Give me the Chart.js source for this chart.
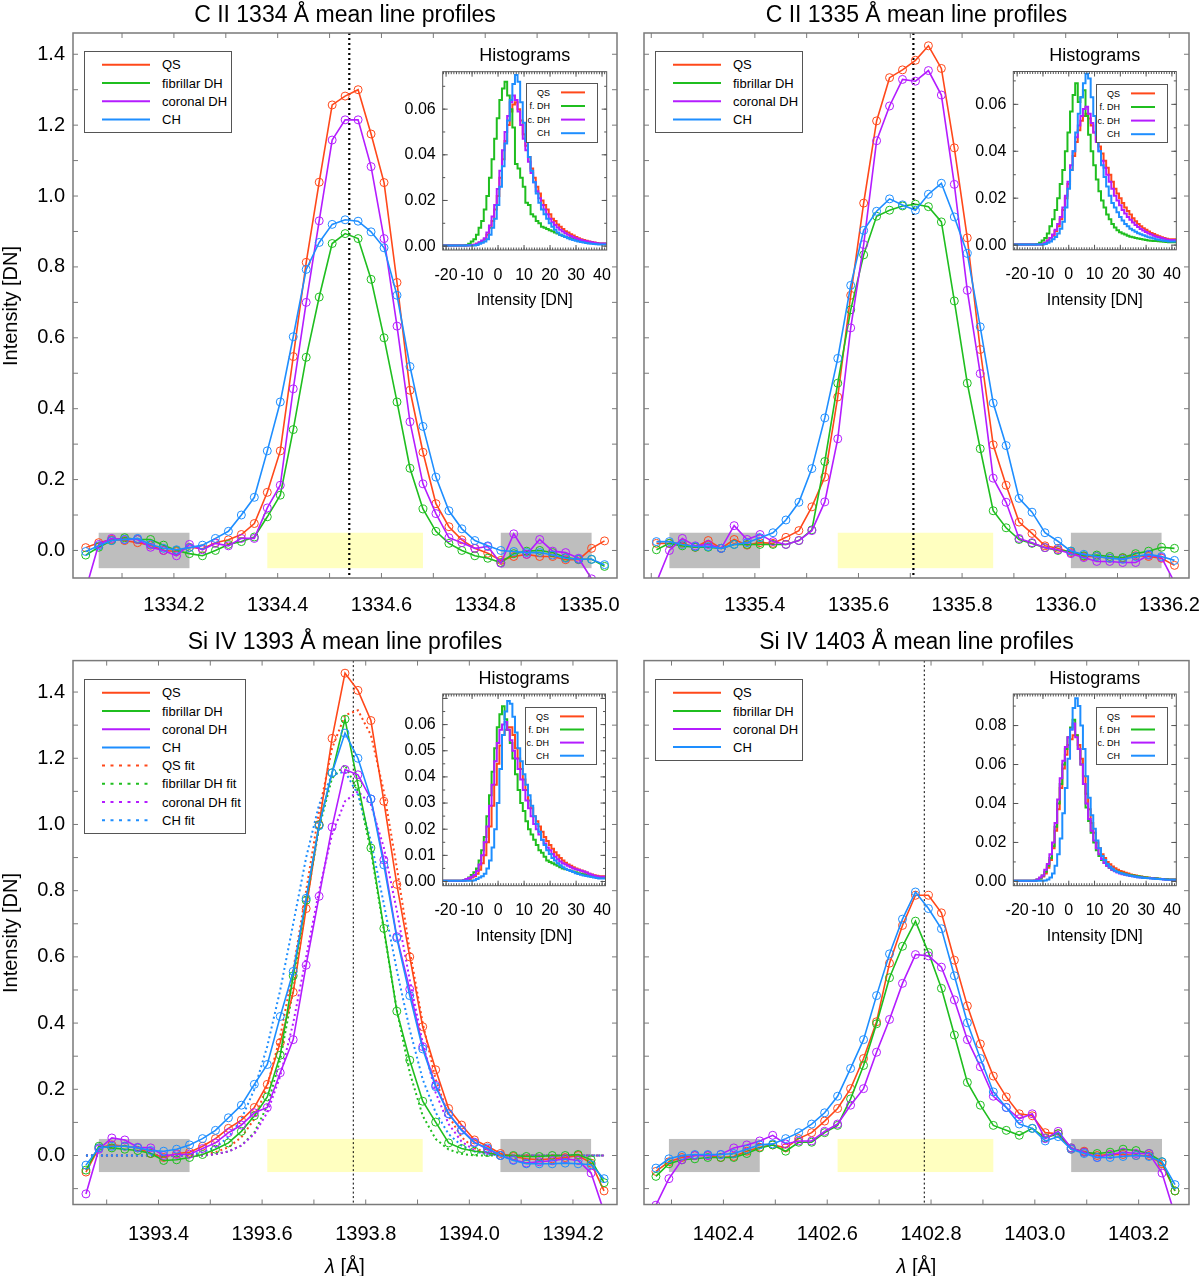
<!DOCTYPE html>
<html>
<head>
<meta charset="utf-8">
<title>IRIS mean line profiles</title>
<script src="https://cdn.jsdelivr.net/npm/chart.js@4.4.1/dist/chart.umd.min.js"></script>
<style>
  html, body { margin: 0; padding: 0; background: #fff; }
  #page { position: relative; width: 1200px; height: 1276px; overflow: hidden;
          font-family: "Liberation Sans", Arial, sans-serif; color: #000; }
  #page canvas { position: absolute; }
  .lbl { position: absolute; white-space: nowrap; line-height: 1; transform: translate(-50%, -50%); }
  .rot { transform: translate(-50%, -50%) rotate(-90deg); }
</style>
</head>
<body>
<div id="page"></div>
<script>
// ---------- wavelength grids (Angstrom) ----------
const lamC1334 = [1334.030, 1334.055, 1334.080, 1334.105, 1334.130, 1334.155, 1334.180, 1334.205, 1334.230, 1334.255,
  1334.280, 1334.305, 1334.330, 1334.355, 1334.380, 1334.405, 1334.430, 1334.455, 1334.480, 1334.505,
  1334.530, 1334.555, 1334.580, 1334.605, 1334.630, 1334.655, 1334.680, 1334.705, 1334.730, 1334.755,
  1334.780, 1334.805, 1334.830, 1334.855, 1334.880, 1334.905, 1334.930, 1334.955, 1334.980, 1335.005, 1335.030];
const lamC1335 = [1335.210, 1335.235, 1335.260, 1335.285, 1335.310, 1335.335, 1335.360, 1335.385, 1335.410, 1335.435,
  1335.460, 1335.485, 1335.510, 1335.535, 1335.560, 1335.585, 1335.610, 1335.635, 1335.660, 1335.685,
  1335.710, 1335.735, 1335.760, 1335.785, 1335.810, 1335.835, 1335.860, 1335.885, 1335.910, 1335.935,
  1335.960, 1335.985, 1336.010, 1336.035, 1336.060, 1336.085, 1336.110, 1336.135, 1336.160, 1336.185, 1336.210];
const lamSi1393 = [1393.260, 1393.285, 1393.310, 1393.335, 1393.360, 1393.385, 1393.410, 1393.435, 1393.460, 1393.485,
  1393.510, 1393.535, 1393.560, 1393.585, 1393.610, 1393.635, 1393.660, 1393.685, 1393.710, 1393.735,
  1393.760, 1393.785, 1393.810, 1393.835, 1393.860, 1393.885, 1393.910, 1393.935, 1393.960, 1393.985,
  1394.010, 1394.035, 1394.060, 1394.085, 1394.110, 1394.135, 1394.160, 1394.185, 1394.210, 1394.235, 1394.260];
const lamSi1403 = [1402.270, 1402.295, 1402.320, 1402.345, 1402.370, 1402.395, 1402.420, 1402.445, 1402.470, 1402.495,
  1402.520, 1402.545, 1402.570, 1402.595, 1402.620, 1402.645, 1402.670, 1402.695, 1402.720, 1402.745,
  1402.770, 1402.795, 1402.820, 1402.845, 1402.870, 1402.895, 1402.920, 1402.945, 1402.970, 1402.995,
  1403.020, 1403.045, 1403.070, 1403.095, 1403.120, 1403.145, 1403.170, 1403.195, 1403.220, 1403.245, 1403.270];

// ---------- mean line profiles [DN] ----------
const qsC1334 = [0.008, 0.022, 0.031, 0.028, 0.022, 0.015, 0.000, -0.003, 0.009, 0.005, 0.022, 0.030, 0.045, 0.076, 0.164, 0.281, 0.547, 0.813, 1.039, 1.257,
  1.282, 1.300, 1.175, 1.038, 0.756, 0.452, 0.277, 0.132, 0.067, 0.030, 0.006, -0.008, -0.028, -0.017, -0.011, -0.017, -0.017, -0.026, -0.026, 0.006, 0.027];
const fdhC1334 = [-0.013, 0.009, 0.028, 0.036, 0.031, 0.031, 0.015, 0.000, -0.009, -0.015, 0.000, 0.017, 0.025, 0.038, 0.095, 0.156, 0.341, 0.545, 0.715, 0.866,
  0.894, 0.880, 0.765, 0.600, 0.419, 0.232, 0.117, 0.054, 0.020, 0.000, -0.015, -0.022, -0.034, -0.009, -0.002, 0.000, -0.006, -0.020, -0.025, -0.025, -0.045];
const cdhC1334 = [-0.110, 0.017, 0.034, 0.031, 0.031, 0.009, 0.000, -0.015, 0.017, 0.002, 0.020, 0.013, 0.034, 0.034, 0.120, 0.184, 0.456, 0.700, 0.930, 1.158,
  1.215, 1.215, 1.083, 0.880, 0.633, 0.363, 0.188, 0.104, 0.036, 0.022, 0.006, 0.011, -0.036, 0.047, -0.011, 0.031, -0.002, -0.006, -0.022, -0.080, -0.120];
const chC1334 = [-0.003, 0.013, 0.028, 0.031, 0.034, 0.017, 0.006, 0.002, 0.008, 0.015, 0.034, 0.054, 0.100, 0.150, 0.281, 0.419, 0.603, 0.793, 0.869, 0.920,
  0.933, 0.929, 0.899, 0.854, 0.720, 0.519, 0.350, 0.207, 0.112, 0.061, 0.028, 0.013, 0.000, -0.003, -0.006, -0.006, -0.013, -0.022, -0.025, -0.025, -0.040];

const qsC1335 = [0.020, 0.020, 0.020, 0.009, 0.028, 0.006, 0.031, 0.015, 0.022, 0.020, 0.037, 0.056, 0.123, 0.207, 0.433, 0.720, 0.980, 1.212, 1.334, 1.356,
  1.383, 1.424, 1.360, 1.136, 0.882, 0.567, 0.298, 0.184, 0.080, 0.048, 0.013, 0.006, -0.006, -0.017, -0.017, -0.022, -0.022, -0.015, -0.017, -0.022, -0.042];
const fdhC1335 = [0.002, 0.020, 0.013, 0.009, 0.009, 0.006, 0.017, 0.017, 0.017, 0.017, 0.017, 0.028, 0.058, 0.251, 0.472, 0.679, 0.834, 0.943, 0.960, 0.972,
  0.977, 0.970, 0.927, 0.704, 0.472, 0.287, 0.112, 0.064, 0.031, 0.020, 0.008, 0.000, -0.002, -0.015, -0.013, -0.017, -0.020, -0.009, -0.002, 0.009, 0.006];
const cdhC1335 = [-0.090, 0.000, 0.034, 0.013, 0.017, 0.006, 0.070, 0.031, 0.045, 0.025, 0.017, 0.028, 0.056, 0.137, 0.315, 0.628, 0.863, 1.156, 1.254, 1.329,
  1.324, 1.354, 1.285, 1.033, 0.734, 0.499, 0.204, 0.136, 0.034, 0.022, 0.008, 0.002, -0.009, -0.020, -0.031, -0.031, -0.034, -0.034, -0.013, -0.020, -0.090];
const chC1335 = [0.025, 0.025, 0.017, 0.011, 0.011, 0.006, 0.017, 0.022, 0.036, 0.050, 0.086, 0.136, 0.231, 0.374, 0.542, 0.748, 0.903, 0.957, 0.992, 0.975,
  0.960, 1.005, 1.036, 0.941, 0.838, 0.631, 0.416, 0.296, 0.147, 0.108, 0.050, 0.026, -0.002, -0.011, -0.017, -0.022, -0.025, -0.017, -0.011, -0.017, -0.028];

const qsSi1393 = [-0.050, 0.023, 0.032, 0.028, 0.023, 0.006, -0.006, 0.006, 0.010, 0.028, 0.051, 0.082, 0.107, 0.145, 0.215, 0.341, 0.493, 0.746, 1.000, 1.260,
  1.457, 1.405, 1.314, 1.070, 0.819, 0.600, 0.389, 0.259, 0.142, 0.092, 0.047, 0.028, 0.006, -0.003, -0.010, -0.013, -0.010, -0.006, 0.000, -0.023, -0.107];
const fdhSi1393 = [-0.044, 0.028, 0.023, 0.019, 0.015, 0.006, -0.015, -0.013, -0.006, 0.003, 0.019, 0.038, 0.073, 0.120, 0.177, 0.303, 0.543, 0.771, 0.998, 1.156,
  1.318, 1.121, 0.929, 0.686, 0.436, 0.288, 0.164, 0.101, 0.038, 0.021, 0.013, 0.009, 0.000, 0.000, -0.003, -0.003, 0.000, 0.000, 0.003, -0.013, -0.082];
const cdhSi1393 = [-0.116, 0.019, 0.053, 0.047, 0.025, 0.023, 0.000, 0.003, 0.004, 0.021, 0.038, 0.069, 0.092, 0.129, 0.145, 0.250, 0.350, 0.575, 0.783, 0.992,
  1.166, 1.150, 1.077, 0.893, 0.661, 0.502, 0.329, 0.212, 0.126, 0.078, 0.040, 0.019, 0.000, -0.013, -0.023, -0.019, -0.016, -0.010, -0.015, -0.053, -0.170];
const chSi1393 = [-0.029, 0.023, 0.028, 0.028, 0.023, 0.015, 0.013, 0.019, 0.032, 0.051, 0.076, 0.114, 0.152, 0.215, 0.275, 0.420, 0.556, 0.777, 0.996, 1.156,
  1.276, 1.200, 1.077, 0.878, 0.657, 0.483, 0.322, 0.208, 0.126, 0.076, 0.038, 0.023, 0.000, -0.015, -0.025, -0.025, -0.025, -0.023, -0.025, -0.028, -0.070];
// fitted profiles (dotted), Si IV 1393 only
const qsFitSi1393 = [0, 0, 0, 0, 0, 0, 0, 0, 0, 0.003, 0.010, 0.025, 0.055, 0.110, 0.210, 0.360, 0.560, 0.800, 1.040, 1.230,
  1.330, 1.345, 1.270, 1.100, 0.870, 0.620, 0.400, 0.230, 0.120, 0.055, 0.022, 0.008, 0.003, 0, 0, 0, 0, 0, 0, 0, 0];
const fdhFitSi1393 = [0, 0, 0, 0, 0, 0, 0, 0, 0, 0, 0.004, 0.012, 0.030, 0.070, 0.150, 0.290, 0.500, 0.760, 0.990, 1.140,
  1.180, 1.100, 0.920, 0.680, 0.440, 0.250, 0.120, 0.050, 0.018, 0.005, 0, 0, 0, 0, 0, 0, 0, 0, 0, 0, 0];
const cdhFitSi1393 = [0, 0, 0, 0, 0, 0, 0, 0, 0, 0, 0.004, 0.012, 0.030, 0.065, 0.130, 0.240, 0.400, 0.600, 0.800, 0.970,
  1.070, 1.100, 1.060, 0.930, 0.740, 0.530, 0.340, 0.190, 0.095, 0.042, 0.016, 0.005, 0, 0, 0, 0, 0, 0, 0, 0, 0];
const chFitSi1393 = [0, 0, 0, 0, 0, 0, 0, 0, 0.003, 0.010, 0.025, 0.055, 0.110, 0.200, 0.330, 0.500, 0.700, 0.900, 1.060, 1.150,
  1.160, 1.090, 0.950, 0.760, 0.560, 0.380, 0.230, 0.130, 0.065, 0.030, 0.012, 0.004, 0, 0, 0, 0, 0, 0, 0, 0, 0];

const qsSi1403 = [-0.048, -0.019, -0.006, 0.000, 0.000, -0.006, -0.003, 0.013, 0.025, 0.032, 0.023, 0.051, 0.069, 0.104, 0.142, 0.202, 0.293, 0.404, 0.581, 0.695,
  0.786, 0.786, 0.733, 0.590, 0.452, 0.337, 0.240, 0.177, 0.126, 0.120, 0.069, 0.066, 0.019, 0.013, 0.000, 0.003, 0.003, 0.000, 0.000, -0.025, -0.107];
const fdhSi1403 = [-0.063, -0.025, -0.013, -0.010, -0.006, -0.006, -0.006, 0.006, 0.023, 0.032, 0.013, 0.040, 0.040, 0.069, 0.091, 0.171, 0.272, 0.398, 0.537, 0.632,
  0.708, 0.613, 0.505, 0.364, 0.221, 0.152, 0.091, 0.076, 0.061, 0.082, 0.053, 0.066, 0.023, 0.010, 0.006, 0.010, 0.019, 0.015, 0.006, -0.019, -0.107];
const cdhSi1403 = [-0.150, -0.070, -0.013, 0.000, 0.000, 0.003, 0.023, 0.032, 0.044, 0.061, 0.035, 0.044, 0.044, 0.073, 0.095, 0.152, 0.202, 0.312, 0.411, 0.520,
  0.607, 0.603, 0.569, 0.470, 0.350, 0.268, 0.179, 0.145, 0.111, 0.126, 0.051, 0.073, 0.023, 0.010, -0.006, 0.003, 0.010, 0.006, 0.006, -0.053, -0.180];
const chSi1403 = [-0.038, -0.010, 0.000, 0.003, 0.003, 0.003, 0.006, 0.019, 0.032, 0.035, 0.051, 0.069, 0.095, 0.129, 0.179, 0.263, 0.350, 0.483, 0.609, 0.714,
  0.796, 0.746, 0.685, 0.543, 0.401, 0.293, 0.192, 0.145, 0.095, 0.082, 0.044, 0.057, 0.019, 0.006, -0.006, -0.006, -0.003, 0.000, -0.003, -0.019, -0.088];

// ---------- intensity histograms (1 DN bins, centres -20..40) ----------
const histBins = [-20, -19, -18, -17, -16, -15, -14, -13, -12, -11, -10, -9, -8, -7, -6, -5, -4, -3, -2, -1,
  0, 1, 2, 3, 4, 5, 6, 7, 8, 9, 10, 11, 12, 13, 14, 15, 16, 17, 18, 19, 20,
  21, 22, 23, 24, 25, 26, 27, 28, 29, 30, 31, 32, 33, 34, 35, 36, 37, 38, 39, 40];

const hQsC1334 = [.0003, .0003, .0003, .0003, .0003, .0003, .0003, .0003, .0003, .0003, .0004, .0004, .0006, .001, .0015, .002, .003, .005, .008, .011,
  .016, .022, .030, .038, .046, .053, .059, .062, .063, .060, .055, .049, .044, .039, .034, .030, .026, .023, .020, .018, .016,
  .014, .012, .011, .0095, .0085, .0075, .0065, .006, .0052, .0046, .004, .0035, .003, .0027, .0024, .002, .0018, .0016, .0014, .0012];
const hFdhC1334 = [.0003, .0003, .0003, .0003, .0003, .0003, .0003, .0003, .0003, .0005, .001, .002, .003, .005, .008, .011, .016, .022, .030, .038,
  .047, .056, .064, .069, .072, .066, .060, .052, .036, .034, .030, .026, .019, .018, .014, .013, .011, .010, .0085, .008, .0075,
  .007, .0065, .006, .0055, .005, .0045, .004, .0037, .0034, .0031, .0028, .0025, .0022, .002, .0018, .0016, .0014, .0012, .0011, .001];
const hCdhC1334 = [.0003, .0003, .0003, .0003, .0003, .0003, .0003, .0003, .0003, .0003, .0004, .0005, .0006, .001, .0017, .0025, .0035, .006, .009, .013,
  .018, .025, .033, .042, .050, .057, .063, .066, .064, .059, .053, .047, .042, .037, .032, .028, .024, .021, .018, .016, .014,
  .012, .0105, .0093, .0082, .0072, .0064, .0056, .005, .0044, .0039, .0034, .003, .0027, .0024, .0021, .0019, .0017, .0015, .0013, .0011];
const hChC1334 = [.0003, .0003, .0003, .0003, .0003, .0003, .0003, .0003, .0003, .0003, .0003, .0003, .0003, .0005, .001, .0015, .002, .003, .005, .008,
  .012, .018, .026, .035, .045, .055, .064, .071, .075, .072, .063, .054, .046, .039, .033, .028, .023, .019, .016, .014, .012,
  .010, .0085, .0072, .006, .005, .0045, .004, .0035, .003, .0027, .0024, .002, .0018, .0016, .0014, .0012, .001, .0009, .0008, .0007];

const hQsC1335 = [.0003, .0003, .0003, .0003, .0003, .0003, .0003, .0003, .0003, .0003, .0003, .0005, .001, .002, .003, .004, .006, .008, .011, .015,
  .020, .026, .032, .038, .044, .049, .053, .055, .056, .054, .051, .048, .045, .042, .039, .036, .033, .030, .027, .024, .022,
  .020, .018, .016, .0145, .013, .0115, .0102, .009, .008, .0072, .0065, .0058, .0052, .0047, .0042, .0038, .0034, .003, .0027, .0025];
const hFdhC1335 = [.0003, .0003, .0003, .0003, .0003, .0003, .0003, .0003, .0003, .0005, .001, .002, .003, .005, .008, .011, .015, .020, .026, .032,
  .040, .048, .057, .064, .069, .061, .063, .066, .055, .047, .040, .034, .028, .023, .019, .016, .013, .011, .009, .0075, .0063,
  .0055, .005, .0045, .004, .0036, .0033, .003, .0028, .0026, .0024, .0022, .002, .0019, .0018, .0017, .0016, .0015, .0014, .0013, .0012];
const hCdhC1335 = [.0003, .0003, .0003, .0003, .0003, .0003, .0003, .0003, .0003, .0003, .0003, .0005, .001, .002, .003, .0045, .0065, .009, .012, .016,
  .021, .027, .034, .040, .046, .051, .055, .058, .059, .056, .052, .048, .044, .040, .036, .033, .030, .027, .024, .021, .019,
  .017, .015, .0135, .012, .0108, .0096, .0086, .0077, .0069, .0062, .0056, .005, .0045, .004, .0036, .0033, .003, .0027, .0024, .0022];
const hChC1335 = [.0003, .0003, .0003, .0003, .0003, .0003, .0003, .0003, .0003, .0003, .0003, .0003, .0005, .001, .0015, .0025, .0035, .005, .007, .010,
  .016, .024, .032, .040, .048, .056, .063, .069, .073, .071, .063, .055, .047, .040, .034, .029, .025, .021, .018, .016, .014,
  .012, .0105, .009, .008, .007, .0063, .0057, .0051, .0046, .0042, .0038, .0034, .0031, .0028, .0025, .0023, .0021, .0019, .0017, .0015];

const hQsSi1393 = [.0003, .0003, .0003, .0003, .0003, .0003, .0003, .0003, .0003, .0005, .001, .0015, .002, .003, .0045, .007, .010, .015, .021, .029,
  .037, .045, .052, .056, .058, .059, .059, .056, .051, .047, .043, .039, .035, .031, .028, .025, .023, .021, .019, .017, .0155,
  .014, .0125, .0112, .010, .009, .008, .0072, .0065, .006, .0055, .005, .0046, .0042, .0038, .0034, .003, .0027, .0024, .0022, .002];
const hFdhSi1393 = [.0003, .0003, .0003, .0003, .0003, .0003, .0003, .0003, .0005, .001, .0015, .0025, .0035, .005, .008, .012, .017, .025, .033, .042,
  .051, .059, .064, .067, .062, .058, .053, .047, .041, .035, .030, .027, .023, .020, .018, .016, .014, .012, .011, .0095, .008,
  .0075, .007, .0065, .006, .0055, .005, .0047, .0044, .0041, .0038, .0035, .0032, .003, .0028, .0025, .0022, .002, .0018, .0016, .0015];
const hCdhSi1393 = [.0003, .0003, .0003, .0003, .0003, .0003, .0003, .0003, .0005, .001, .0013, .0018, .0025, .004, .0065, .010, .015, .021, .029, .037,
  .046, .053, .058, .060, .061, .058, .054, .050, .047, .043, .039, .035, .031, .028, .025, .022, .020, .018, .016, .0145, .013,
  .012, .0105, .0095, .0085, .0077, .007, .0065, .006, .0055, .005, .0047, .0044, .0041, .0038, .0034, .003, .0026, .0022, .002, .0018];
const hChSi1393 = [.0003, .0003, .0003, .0003, .0003, .0003, .0003, .0003, .0003, .0003, .0003, .0003, .0005, .001, .0015, .002, .003, .005, .008, .013,
  .020, .030, .043, .056, .065, .069, .068, .063, .057, .051, .046, .041, .037, .033, .029, .025, .022, .019, .016, .014, .012,
  .0105, .009, .008, .007, .0062, .0055, .0049, .0044, .004, .0036, .0032, .0029, .0026, .0023, .0021, .0019, .0017, .0015, .0013, .0012];

const hQsSi1403 = [.0003, .0003, .0003, .0003, .0003, .0003, .0003, .0003, .0003, .0008, .0015, .0025, .004, .007, .011, .017, .026, .037, .048, .058,
  .065, .070, .073, .075, .075, .070, .063, .054, .045, .037, .030, .025, .020, .017, .014, .012, .010, .0088, .0077, .0068, .006,
  .0054, .0049, .0044, .004, .0036, .0033, .003, .0027, .0025, .0023, .0021, .0019, .0017, .0016, .0015, .0014, .0013, .0012, .0011, .001];
const hFdhSi1403 = [.0003, .0003, .0003, .0003, .0003, .0003, .0003, .0003, .0003, .001, .0015, .003, .005, .008, .012, .018, .028, .040, .050, .060,
  .068, .074, .079, .083, .075, .068, .060, .050, .038, .031, .025, .020, .016, .013, .011, .0095, .008, .007, .006, .0055, .005,
  .0045, .004, .0037, .0034, .0032, .003, .0028, .0026, .0024, .0022, .002, .0019, .0018, .0017, .0016, .0014, .0013, .0012, .0011, .001];
const hCdhSi1403 = [.0003, .0003, .0003, .0003, .0003, .0003, .0003, .0003, .0005, .001, .002, .003, .006, .009, .014, .020, .030, .042, .053, .062,
  .069, .074, .078, .081, .074, .068, .060, .050, .040, .032, .026, .021, .017, .014, .0115, .0095, .008, .007, .006, .0052, .0046,
  .0041, .0037, .0034, .0031, .0028, .0026, .0024, .0022, .002, .0019, .0018, .0017, .0016, .0015, .0014, .0013, .0012, .001, .0009, .0008];
const hChSi1403 = [.0003, .0003, .0003, .0003, .0003, .0003, .0003, .0003, .0003, .0003, .0003, .0003, .0005, .001, .002, .004, .008, .014, .022, .035,
  .048, .063, .078, .089, .094, .090, .080, .068, .054, .043, .034, .027, .021, .017, .013, .011, .009, .0075, .0065, .0055, .0048,
  .0043, .0039, .0035, .0032, .0029, .0026, .0024, .0022, .002, .0018, .0017, .0016, .0015, .0014, .0013, .0012, .0011, .001, .0009, .0008];

// ---------- tick labels ----------
const xTicksC1334 = [1334.2, 1334.4, 1334.6, 1334.8, 1335.0];
const xTicksC1335 = [1335.4, 1335.6, 1335.8, 1336.0, 1336.2];
const xTicksSi1393 = [1393.4, 1393.6, 1393.8, 1394.0, 1394.2];
const xTicksSi1403 = [1402.4, 1402.6, 1402.8, 1403.0, 1403.2];
const yTicksProfile = [0.0, 0.2, 0.4, 0.6, 0.8, 1.0, 1.2, 1.4];
const xTicksHist = [-20, -10, 0, 10, 20, 30, 40];
const yTicksHistC = [0.00, 0.02, 0.04, 0.06];
const yTicksHistSi1393 = [0.00, 0.01, 0.02, 0.03, 0.04, 0.05, 0.06];
const yTicksHistSi1403 = [0.00, 0.02, 0.04, 0.06, 0.08];

// ---------- spectral windows and rest wavelengths ----------
const grayC1334 = [[1334.055, 1334.230], [1334.830, 1335.005]];
const yellowC1334 = [1334.380, 1334.680];
const restC1334 = 1334.538;
const grayC1335 = [[1335.235, 1335.410], [1336.010, 1336.185]];
const yellowC1335 = [1335.560, 1335.860];
const restC1335 = 1335.706;
const graySi1393 = [[1393.285, 1393.460], [1394.060, 1394.235]];
const yellowSi1393 = [1393.610, 1393.910];
const restSi1393 = 1393.776;
const graySi1403 = [[1402.295, 1402.470], [1403.070, 1403.245]];
const yellowSi1403 = [1402.620, 1402.920];
const restSi1403 = 1402.787;
const windowLevels = [-0.05, 0.05];

const seriesNames = ['QS', 'fibrillar DH', 'coronal DH', 'CH'];
const fitNames = ['QS fit', 'fibrillar DH fit', 'coronal DH fit', 'CH fit'];
const histNames = ['QS', 'f. DH', 'c. DH', 'CH'];

// ---------- styling / layout ----------
const COLORS = ['#ff481a', '#1fbe1f', '#b41cff', '#1e8eff'];
const FONT = '"Liberation Sans", Arial, sans-serif';
Chart.defaults.font.family = FONT;
Chart.defaults.color = '#000';

const panels = [
  { title: 'C II 1334 Å mean line profiles', lam: lamC1334,
    prof: [qsC1334, fdhC1334, cdhC1334, chC1334], fits: null,
    hist: [hQsC1334, hFdhC1334, hCdhC1334, hChC1334],
    gray: grayC1334, yellow: yellowC1334, rest: restC1334, restW: 2.2,
    xTicks: xTicksC1334, xRange: [1334.0055, 1335.054], yRange: [-0.0777, 1.46], yLabels: true, xPad: 15.5,
    cv: { x: 0, y: 0, w: 640, h: 640 }, area: { l: 73, t: 33, r: 617, b: 578 },
    legend: { x: 84, y: 51, w: 148, h: 82, dy: 18.2 },
    inset: { cv: { x: 395, y: 60, w: 225, h: 240 }, area: { l: 442.7, t: 71.7, r: 606.7, b: 250 },
             xRange: [-21.3, 41.8], yRange: [-0.0017, 0.0764], yStep: 0.02, yTicks: yTicksHistC,
             legend: { x: 526, y: 83, w: 72, h: 60, dy: 13.6 } } },
  { title: 'C II 1335 Å mean line profiles', lam: lamC1335,
    prof: [qsC1335, fdhC1335, cdhC1335, chC1335], fits: null,
    hist: [hQsC1335, hFdhC1335, hCdhC1335, hChC1335],
    gray: grayC1335, yellow: yellowC1335, rest: restC1335, restW: 2.2,
    xTicks: xTicksC1335, xRange: [1335.186, 1336.238], yRange: [-0.0777, 1.46], yLabels: false, xPad: 15.5,
    cv: { x: 630, y: 0, w: 580, h: 640 }, area: { l: 644, t: 33, r: 1189, b: 578 },
    legend: { x: 655, y: 51, w: 148, h: 82, dy: 18.2 },
    inset: { cv: { x: 965, y: 60, w: 225, h: 240 }, area: { l: 1013.3, t: 71.5, r: 1176.3, b: 249.8 },
             xRange: [-21.5, 41.7], yRange: [-0.002, 0.074], yStep: 0.02, yTicks: yTicksHistC,
             legend: { x: 1096, y: 84, w: 72, h: 59, dy: 13.6 } } },
  { title: 'Si IV 1393 Å mean line profiles', lam: lamSi1393,
    prof: [qsSi1393, fdhSi1393, cdhSi1393, chSi1393],
    fits: [qsFitSi1393, fdhFitSi1393, cdhFitSi1393, chFitSi1393],
    hist: [hQsSi1393, hFdhSi1393, hCdhSi1393, hChSi1393],
    gray: graySi1393, yellow: yellowSi1393, rest: restSi1393, restW: 1,
    xTicks: xTicksSi1393, xRange: [1393.235, 1394.285], yRange: [-0.148, 1.495], yLabels: true, xPad: 18,
    cv: { x: 0, y: 640, w: 640, h: 636 }, area: { l: 73, t: 660.6, r: 617, b: 1204.5 },
    legend: { x: 84, y: 679, w: 162, h: 155, dy: 18.2 },
    inset: { cv: { x: 395, y: 683, w: 225, h: 240 }, area: { l: 442.7, t: 694, r: 605.5, b: 885.7 },
             xRange: [-21.3, 41.3], yRange: [-0.0016, 0.0717], yStep: 0.01, yTicks: yTicksHistSi1393,
             legend: { x: 525, y: 707, w: 72, h: 58, dy: 13.1 } } },
  { title: 'Si IV 1403 Å mean line profiles', lam: lamSi1403,
    prof: [qsSi1403, fdhSi1403, cdhSi1403, chSi1403], fits: null,
    hist: [hQsSi1403, hFdhSi1403, hCdhSi1403, hChSi1403],
    gray: graySi1403, yellow: yellowSi1403, rest: restSi1403, restW: 1,
    xTicks: xTicksSi1403, xRange: [1402.247, 1403.297], yRange: [-0.148, 1.495], yLabels: false, xPad: 18,
    cv: { x: 630, y: 640, w: 580, h: 636 }, area: { l: 644, t: 660.6, r: 1189, b: 1204.5 },
    legend: { x: 655, y: 679, w: 148, h: 82, dy: 18.1 },
    inset: { cv: { x: 965, y: 683, w: 225, h: 240 }, area: { l: 1013.3, t: 694, r: 1176.3, b: 885.7 },
             xRange: [-21.5, 41.7], yRange: [-0.0022, 0.0962], yStep: 0.02, yTicks: yTicksHistSi1403,
             legend: { x: 1096, y: 707, w: 72, h: 58, dy: 13.1 } } }
];

const page = document.getElementById('page');

function makeCanvas(cv) {
  const c = document.createElement('canvas');
  c.width = cv.w; c.height = cv.h;
  c.style.left = cv.x + 'px'; c.style.top = cv.y + 'px';
  c.style.width = cv.w + 'px'; c.style.height = cv.h + 'px';
  page.appendChild(c);
  return c;
}

// frame plus inward ticks on all four sides (IDL look)
function framePlugin(ticks, frameColor, frameWidth) {
  return {
    id: 'frame',
    afterDraw(chart) {
      const { ctx, chartArea: a, scales } = chart;
      ctx.save();
      ctx.strokeStyle = frameColor;
      ctx.lineWidth = 1;
      ctx.beginPath();
      ticks.forEach(t => {
        const s = scales[t.axis];
        const n0 = Math.ceil(s.min / t.step - 1e-6), n1 = Math.floor(s.max / t.step + 1e-6);
        for (let n = n0; n <= n1; n++) {
          const p = s.getPixelForValue(n * t.step);
          if (t.axis === 'x') {
            ctx.moveTo(p, a.bottom); ctx.lineTo(p, a.bottom - t.len);
            ctx.moveTo(p, a.top); ctx.lineTo(p, a.top + t.len);
          } else {
            ctx.moveTo(a.left, p); ctx.lineTo(a.left + t.len, p);
            ctx.moveTo(a.right, p); ctx.lineTo(a.right - t.len, p);
          }
        }
      });
      ctx.stroke();
      ctx.lineWidth = frameWidth;
      ctx.strokeRect(a.left, a.top, a.right - a.left, a.bottom - a.top);
      ctx.restore();
    }
  };
}

// continuum windows, line-core window and rest wavelength
function bandPlugin(p) {
  return {
    id: 'bands',
    beforeDatasetsDraw(chart) {
      const { ctx, chartArea: a, scales: { x, y } } = chart;
      ctx.save();
      ctx.beginPath();
      ctx.rect(a.left, a.top, a.right - a.left, a.bottom - a.top);
      ctx.clip();
      const yTop = y.getPixelForValue(windowLevels[1]);
      const yBot = y.getPixelForValue(windowLevels[0]);
      const span = (s, col) => {
        const x0 = x.getPixelForValue(s[0]), x1 = x.getPixelForValue(s[1]);
        ctx.fillStyle = col;
        ctx.fillRect(x0, yTop, x1 - x0, yBot - yTop);
      };
      p.gray.forEach(s => span(s, '#bebebe'));
      span(p.yellow, '#ffffc0');
      const rx = x.getPixelForValue(p.rest);
      ctx.strokeStyle = '#000';
      ctx.lineWidth = p.restW;
      ctx.setLineDash(p.restW > 1.5 ? [2, 3] : [2, 2.5]);
      ctx.beginPath();
      ctx.moveTo(rx, a.top); ctx.lineTo(rx, a.bottom);
      ctx.stroke();
      ctx.restore();
    }
  };
}

function fixedScales(cv, area) {
  return {
    yWidth: area.l - cv.x,
    xHeight: cv.y + cv.h - area.b,
    padding: { left: 0, top: area.t - cv.y, right: cv.x + cv.w - area.r, bottom: 0 }
  };
}

const useTicks = values => s => { s.ticks = values.map(v => ({ value: v })); };

function drawMain(p) {
  const fx = fixedScales(p.cv, p.area);
  const datasets = [];
  if (p.fits) {
    p.fits.forEach((f, k) => datasets.push({
      label: fitNames[k], data: p.lam.map((x, i) => ({ x, y: f[i] })),
      borderColor: COLORS[k], borderWidth: 2, borderDash: [2, 3], pointRadius: 0,
      tension: 0, clip: 0, order: 20 - k
    }));
  }
  p.prof.forEach((s, k) => datasets.push({
    label: seriesNames[k], data: p.lam.map((x, i) => ({ x, y: s[i] })),
    borderColor: COLORS[k], borderWidth: 1.6, tension: 0, clip: 0,
    pointRadius: 4, pointBorderWidth: 1, pointBorderColor: COLORS[k],
    pointBackgroundColor: 'rgba(0,0,0,0)', order: 10 - k
  }));
  new Chart(makeCanvas(p.cv), {
    type: 'line',
    data: { datasets },
    plugins: [bandPlugin(p), framePlugin([{ axis: 'x', step: 0.1, len: 5 }, { axis: 'y', step: 0.1, len: 5 }], '#7a7a7a', 1.5)],
    options: {
      responsive: false, animation: false, events: [],
      layout: { padding: fx.padding },
      plugins: { legend: { display: false }, tooltip: { enabled: false } },
      scales: {
        x: {
          type: 'linear', min: p.xRange[0], max: p.xRange[1], bounds: 'data',
          grid: { display: false, drawTicks: false }, border: { display: false },
          afterBuildTicks: useTicks(p.xTicks),
          ticks: { autoSkip: false, maxRotation: 0, padding: p.xPad, font: { size: 20 }, color: '#000',
                   callback: v => v.toFixed(1) },
          afterFit: s => { s.height = fx.xHeight; s.paddingLeft = 0; s.paddingRight = 0; }
        },
        y: {
          type: 'linear', min: p.yRange[0], max: p.yRange[1], bounds: 'data',
          grid: { display: false, drawTicks: false }, border: { display: false },
          afterBuildTicks: useTicks(yTicksProfile),
          ticks: { display: p.yLabels, autoSkip: false, padding: 8, font: { size: 20 }, color: '#000',
                   callback: v => v.toFixed(1) },
          afterFit: s => { s.width = fx.yWidth; s.paddingTop = 0; s.paddingBottom = 0; }
        }
      }
    }
  });
}

function drawInset(p) {
  const ins = p.inset;
  const fx = fixedScales(ins.cv, ins.area);
  const last = histBins.length - 1;
  const datasets = p.hist.map((h, k) => ({
    label: histNames[k],
    data: [{ x: ins.xRange[0], y: h[0] }]
      .concat(histBins.map((c, i) => ({ x: c - 0.5, y: h[i] })))
      .concat([{ x: histBins[last] + 0.5, y: h[last] }, { x: ins.xRange[1], y: h[last] }]),
    borderColor: COLORS[k], borderWidth: 2, pointRadius: 0, stepped: 'after',
    clip: 0, order: 10 - k
  }));
  new Chart(makeCanvas(ins.cv), {
    type: 'line',
    data: { datasets },
    plugins: [framePlugin([{ axis: 'x', step: 10, len: 5 }, { axis: 'x', step: 1, len: 2.5 },
                           { axis: 'y', step: ins.yStep, len: 5 }, { axis: 'y', step: ins.yStep / 2, len: 2.5 }], '#555', 1)],
    options: {
      responsive: false, animation: false, events: [],
      layout: { padding: fx.padding },
      plugins: { legend: { display: false }, tooltip: { enabled: false } },
      scales: {
        x: {
          type: 'linear', min: ins.xRange[0], max: ins.xRange[1], bounds: 'data',
          grid: { display: false, drawTicks: false }, border: { display: false },
          afterBuildTicks: useTicks(xTicksHist),
          ticks: { autoSkip: false, maxRotation: 0, padding: 15.5, font: { size: 16 }, color: '#000',
                   callback: v => String(v) },
          afterFit: s => { s.height = fx.xHeight; s.paddingLeft = 0; s.paddingRight = 0; }
        },
        y: {
          type: 'linear', min: ins.yRange[0], max: ins.yRange[1], bounds: 'data',
          grid: { display: false, drawTicks: false }, border: { display: false },
          afterBuildTicks: useTicks(ins.yTicks),
          ticks: { autoSkip: false, padding: 7, font: { size: 16 }, color: '#000',
                   callback: v => v.toFixed(2) },
          afterFit: s => { s.width = fx.yWidth; s.paddingTop = 0; s.paddingBottom = 0; }
        }
      }
    }
  });
}

function addText(html, cx, cy, size, cls) {
  const d = document.createElement('div');
  d.className = 'lbl' + (cls ? ' ' + cls : '');
  d.style.left = cx + 'px'; d.style.top = cy + 'px';
  d.style.fontSize = size + 'px';
  d.innerHTML = html;
  page.appendChild(d);
}

// legend box drawn as SVG: rows = [{label, color, dash}]
function addLegend(box, rows, st) {
  const ns = 'http://www.w3.org/2000/svg';
  const svg = document.createElementNS(ns, 'svg');
  svg.setAttribute('width', box.w); svg.setAttribute('height', box.h);
  svg.style.cssText = `position:absolute;left:${box.x}px;top:${box.y}px;overflow:visible;`;
  const rect = document.createElementNS(ns, 'rect');
  rect.setAttribute('x', 0.5); rect.setAttribute('y', 0.5);
  rect.setAttribute('width', box.w - 1); rect.setAttribute('height', box.h - 1);
  rect.setAttribute('fill', '#fff'); rect.setAttribute('stroke', '#555'); rect.setAttribute('stroke-width', 1);
  svg.appendChild(rect);
  rows.forEach((r, k) => {
    const cy = st.y0 + k * box.dy;
    const ln = document.createElementNS(ns, 'line');
    ln.setAttribute('x1', st.lx0); ln.setAttribute('x2', st.lx1);
    ln.setAttribute('y1', cy); ln.setAttribute('y2', cy);
    ln.setAttribute('stroke', r.color); ln.setAttribute('stroke-width', 2);
    if (r.dash) ln.setAttribute('stroke-dasharray', r.dash);
    svg.appendChild(ln);
    const tx = document.createElementNS(ns, 'text');
    tx.setAttribute('x', st.tx); tx.setAttribute('y', cy + st.fs * 0.36);
    tx.setAttribute('text-anchor', st.anchor);
    tx.setAttribute('font-family', FONT); tx.setAttribute('font-size', st.fs);
    tx.textContent = r.label;
    svg.appendChild(tx);
  });
  page.appendChild(svg);
}

panels.forEach((p, idx) => {
  drawMain(p);
  drawInset(p);
  const cx = (p.area.l + p.area.r) / 2;
  const icx = (p.inset.area.l + p.inset.area.r) / 2;
  addText(p.title, cx, p.area.t - 19.5, 23);
  addText('Histograms', icx, p.inset.area.t - 16.5, 18);
  addText('Intensity [DN]', icx, p.inset.area.b + 50, 16);
  if (p.yLabels) addText('Intensity [DN]', 9.5, (p.area.t + p.area.b) / 2, 20, 'rot');
  if (idx >= 2) addText('<i>λ</i> [Å]', cx, 1266, 20);

  const rows = seriesNames.map((n, k) => ({ label: n, color: COLORS[k] }));
  if (p.fits) fitNames.forEach((n, k) => rows.push({ label: n, color: COLORS[k], dash: '3 5.5' }));
  addLegend(p.legend, rows, { y0: 13.8, lx0: 18, lx1: 66, tx: 78, anchor: 'start', fs: 13 });
  addLegend(p.inset.legend, histNames.map((n, k) => ({ label: n, color: COLORS[k] })),
            { y0: 9.4, lx0: 35, lx1: 59, tx: 24, anchor: 'end', fs: 9 });
});
</script>
</body>
</html>
